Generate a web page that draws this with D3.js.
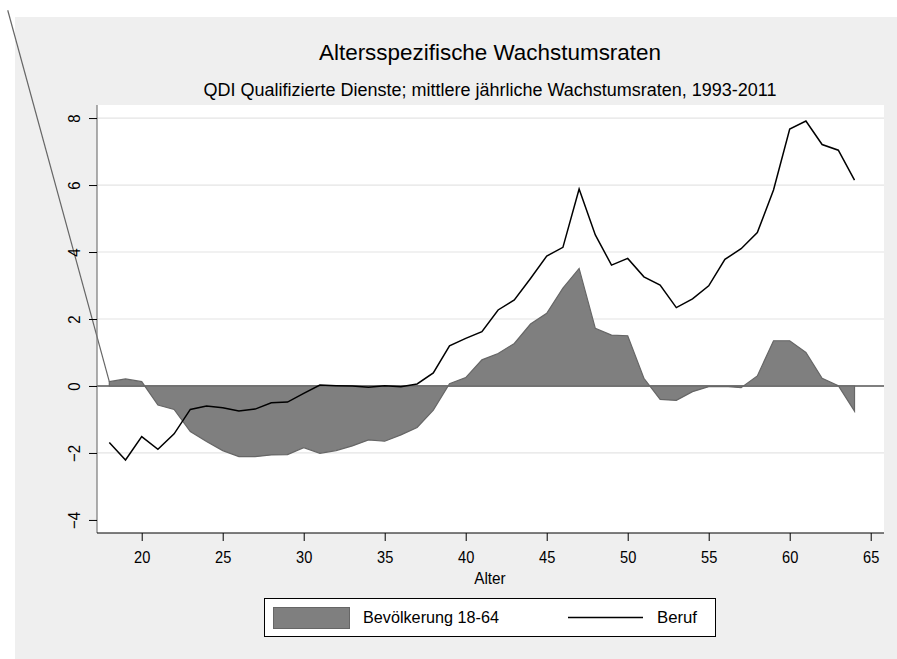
<!DOCTYPE html>
<html><head><meta charset="utf-8">
<script src="https://cdn.jsdelivr.net/npm/d3@7"></script>
<style>body{margin:0;background:#fff}svg{display:block}text{font-family:"Liberation Sans",Arial,sans-serif;fill:#000}</style>
</head><body><svg id="c" width="897" height="659"></svg>
<script>
const ages = d3.range(18, 65);
const bevoelkerung = [0.13,0.21,0.13,-0.57,-0.70,-1.36,-1.66,-1.93,-2.11,-2.11,-2.06,-2.05,-1.84,-2.01,-1.93,-1.79,-1.61,-1.65,-1.46,-1.24,-0.72,0.07,0.25,0.78,0.97,1.27,1.85,2.17,2.92,3.51,1.72,1.52,1.50,0.23,-0.40,-0.43,-0.17,-0.02,-0.01,-0.05,0.30,1.35,1.35,1.00,0.23,0.01,-0.75];
const beruf = [-1.69,-2.21,-1.51,-1.89,-1.43,-0.70,-0.60,-0.65,-0.75,-0.69,-0.50,-0.48,-0.22,0.03,0.01,0.0,-0.04,0.01,-0.02,0.06,0.39,1.20,1.42,1.62,2.27,2.57,3.21,3.88,4.14,5.88,4.51,3.61,3.81,3.26,3.01,2.34,2.60,2.99,3.78,4.10,4.58,5.85,7.67,7.91,7.21,7.04,6.15];
const leadIn = [{age: 11.73, value: 11.22}];
const xTicks = [20,25,30,35,40,45,50,55,60,65];
const yTicks = [-4,-2,0,2,4,6,8];
const gridTicks = [-2,2,4,6,8];
const title = "Altersspezifische Wachstumsraten";
const subtitle = "QDI Qualifizierte Dienste; mittlere jährliche Wachstumsraten, 1993-2011";
const xTitle = "Alter";
const legendLabels = ["Bevölkerung 18-64", "Beruf"];

const svg = d3.select("#c");
const L = 97, R = 884, T = 105, B = 533;
const x = d3.scaleLinear().domain([17.24, 65.82]).range([L, R]);
const y = d3.scaleLinear().domain([-4.39, 8.39]).range([B, T]);
const cx = 490;

svg.append("rect").attr("x",15).attr("y",17).attr("width",882).attr("height",642).attr("fill","#efefef");
svg.append("rect").attr("x",L).attr("y",T).attr("width",R-L).attr("height",B-T).attr("fill","#fff");

svg.append("g").selectAll("line").data(gridTicks).join("line")
  .attr("x1",L).attr("x2",R).attr("y1",d=>y(d)).attr("y2",d=>y(d))
  .attr("stroke","#e4e4e4").attr("stroke-width",1.2);

svg.append("line").attr("x1",L).attr("x2",R).attr("y1",y(0)).attr("y2",y(0)).attr("stroke","#000").attr("stroke-width",1.2);

const pts = ages.map((a,i)=>({age:a, value:bevoelkerung[i]}));
const area = d3.area().x(d=>x(d.age)).y0(y(0)).y1(d=>y(d.value));
svg.append("path").datum(pts).attr("d",area).attr("fill","#7f7f7f").attr("stroke","#666").attr("stroke-width",1.2);
const line = d3.line().x(d=>x(d.age)).y(d=>y(d.value));
svg.append("path").datum([leadIn[0], pts[0]]).attr("d",line).attr("fill","none").attr("stroke","#666").attr("stroke-width",1.2);

const bpts = ages.map((a,i)=>({age:a, value:beruf[i]}));
svg.append("path").datum(bpts).attr("d",line).attr("fill","none").attr("stroke","#000").attr("stroke-width",1.5).attr("stroke-linejoin","miter");

// axes
svg.append("line").attr("x1",L).attr("x2",L).attr("y1",T).attr("y2",B).attr("stroke","#777").attr("stroke-width",1.2);
svg.append("line").attr("x1",L).attr("x2",R).attr("y1",B).attr("y2",B).attr("stroke","#000").attr("stroke-width",1.2);

function squeeze(sel, f) {
  sel.each(function(){ const w = this.getComputedTextLength(); d3.select(this).attr("textLength", w*f).attr("lengthAdjust","spacingAndGlyphs"); });
}

const yAxis = d3.axisLeft(y).tickValues(yTicks).tickSize(8).tickFormat(d3.format("d"));
const gy = svg.append("g").attr("transform",`translate(${L},0)`).call(yAxis);
gy.select(".domain").remove();
gy.selectAll(".tick line").attr("stroke","#000");
gy.selectAll(".tick text").attr("font-size",17).attr("font-family","Liberation Sans, Arial, sans-serif")
  .attr("x",null).attr("dy",null).attr("text-anchor","middle")
  .attr("transform","translate(-17,0) rotate(-90)").attr("dy","0em")
  .attr("fill","#000").call(squeeze, 0.88);

const xAxis = d3.axisBottom(x).tickValues(xTicks).tickSize(8).tickFormat(d3.format("d"));
const gx = svg.append("g").attr("transform",`translate(0,${B})`).call(xAxis);
gx.select(".domain").remove();
gx.selectAll(".tick line").attr("stroke","#000");
gx.selectAll(".tick text").attr("font-size",17).attr("font-family","Liberation Sans, Arial, sans-serif")
  .attr("y",null).attr("dy",null).attr("y",30).attr("fill","#000").call(squeeze, 0.86);

svg.append("text").attr("x",cx).attr("y",584).attr("text-anchor","middle").attr("font-size",17).text(xTitle).call(squeeze, 0.9);
svg.append("text").attr("x",cx).attr("y",60).attr("text-anchor","middle").attr("font-size",22)
  .attr("textLength",342).attr("lengthAdjust","spacingAndGlyphs").text(title);
svg.append("text").attr("x",cx).attr("y",96).attr("text-anchor","middle").attr("font-size",17.5)
  .attr("textLength",573).attr("lengthAdjust","spacingAndGlyphs").text(subtitle);

// legend
const lg = svg.append("g");
lg.append("rect").attr("x",264.5).attr("y",598.5).attr("width",451).attr("height",38).attr("fill","#fff").attr("stroke","#000").attr("stroke-width",1);
lg.append("rect").attr("x",273.5).attr("y",607.5).attr("width",76).attr("height",21).attr("fill","#7f7f7f").attr("stroke","#666");
lg.append("text").attr("x",363).attr("y",623).attr("font-size",17).attr("textLength",136).attr("lengthAdjust","spacingAndGlyphs").text(legendLabels[0]);
lg.append("line").attr("x1",568).attr("x2",643).attr("y1",617.5).attr("y2",617.5).attr("stroke","#000").attr("stroke-width",1.5);
lg.append("text").attr("x",657).attr("y",623).attr("font-size",17).attr("textLength",40).attr("lengthAdjust","spacingAndGlyphs").text(legendLabels[1]);
</script></body></html>
